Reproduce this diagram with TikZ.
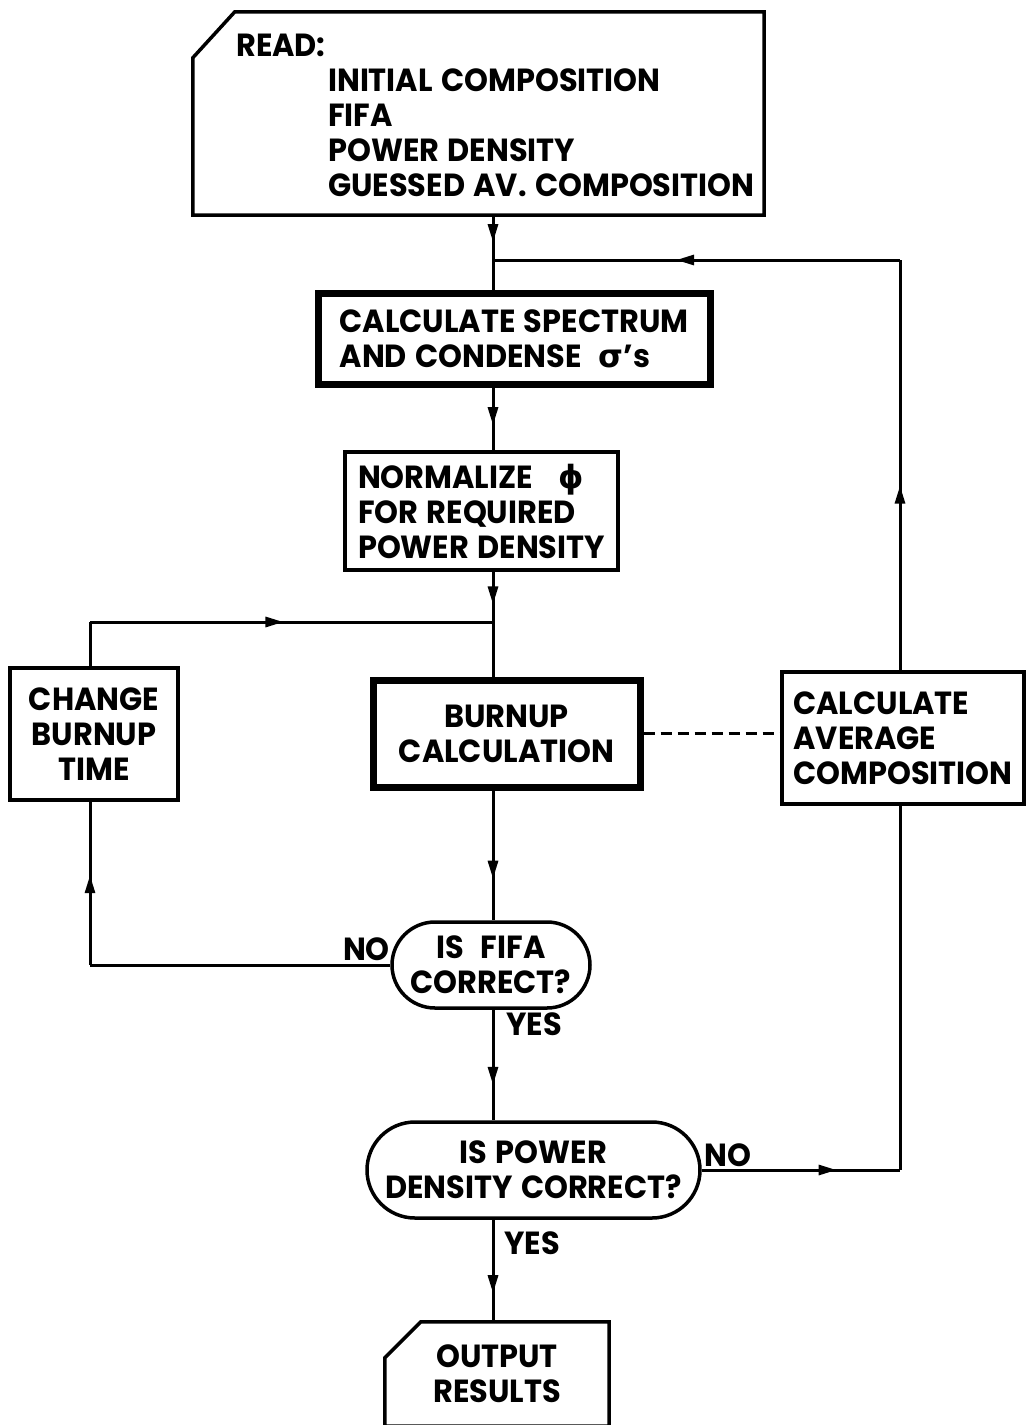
\documentclass[tikz,border=0pt]{standalone}
\usepackage{fontspec}
\setmainfont{Poppins}[WordSpace=1.3,FakeStretch=0.95]
\newfontfamily\grk{DejaVu Sans}
\usetikzlibrary{arrows.meta,shapes.misc,decorations.markings,calc}
\begin{document}
\begin{tikzpicture}[x=1pt,y=-1pt,
  txt/.style={font=\fontsize{32}{35}\selectfont\bfseries},
  box/.style={draw, line width=3.5pt, txt, inner sep=0pt},
  thickbox/.style={box, line width=7pt},
  oval/.style={draw, line width=3.5pt, rounded rectangle, txt, align=center, inner sep=0pt},
  iobox/.style={txt, inner sep=0pt},
  boxline/.style={line width=3.5pt, line join=miter},
  conn/.style={line width=3pt},
  lab/.style={txt, inner sep=0pt},
  arr/.style={postaction={decorate, decoration={markings, mark=at position #1 with {\arrow{Triangle[length=18pt,width=10pt]}}}}}
]
\useasboundingbox (0,0) rectangle (1026,1425);
\fill[white] (0,0) rectangle (1026,1425);

% input box
\node[iobox, minimum width=571pt, minimum height=203pt] (read) at (478.5,113.5) {};
\draw[boxline] ($(read.north west)+(42,0)$) -- (read.north east) -- (read.south east) -- (read.south west) -- ($(read.north west)+(0,46)$) -- cycle;
\node[lab, anchor=west] (readhd) at (236,45) {READ:};
\node[lab, anchor=west, align=left] (readlist) at (328,133) {INITIAL COMPOSITION\\FIFA\\POWER DENSITY\\GUESSED AV. COMPOSITION};

% process boxes
\node[thickbox, minimum width=392pt, minimum height=91pt, align=left] (spec) at (514,338.5) {CALCULATE SPECTRUM\\AND CONDENSE \ {\grk\bfseries σ}’s};
\node[box, minimum width=273pt, minimum height=118pt, align=left] (norm) at (481.5,511) {NORMALIZE \ \ {\grk\bfseries ϕ}\\FOR REQUIRED\\POWER DENSITY};
\node[thickbox, minimum width=267pt, minimum height=107pt, align=center] (burn) at (506.5,733.5) {BURNUP\\CALCULATION};
\node[box, minimum width=168pt, minimum height=132pt, align=center] (change) at (94,734) {CHANGE\\BURNUP\\TIME};
\node[box, minimum width=242pt, minimum height=132pt, align=left] (avg) at (903,738) {CALCULATE\\AVERAGE\\COMPOSITION};

% decisions
\node[oval, minimum width=198pt, minimum height=86pt] (fifa) at (491,965) {IS \ FIFA\\CORRECT?};
\node[oval, minimum width=333pt, minimum height=96pt] (power) at (533.5,1170) {IS POWER\\DENSITY CORRECT?};

% output box
\node[iobox, align=center, minimum width=224pt, minimum height=104pt] (out) at (497,1374) {OUTPUT\\RESULTS};
\draw[boxline] ($(out.north west)+(36,0)$) -- (out.north east) -- (out.south east) -- (out.south west) -- ($(out.north west)+(0,36)$) -- cycle;

% junction coordinates
\coordinate (j1) at (493,260);
\coordinate (j2) at (493,622);
\coordinate (rc) at (900,260);
\coordinate (lc) at (90,622);
\coordinate (lb) at (90,965);
\coordinate (rb) at (900,1170);

% connectors
\draw[conn, arr=0.6] (read.south -| j1) -- (j1);
\draw[conn] (j1) -- (spec.north -| j1);
\draw[conn, arr=0.45] (avg.north -| rc) -- (rc);
\draw[conn, arr=0.55] (rc) -- (j1);
\draw[conn, arr=0.6] (spec.south -| j1) -- (norm.north -| j1);
\draw[conn, arr=0.65] (norm.south -| j1) -- (j2);
\draw[conn] (j2) -- (burn.north -| j2);
\draw[conn] (change.north -| lc) -- (lc);
\draw[conn, arr=0.48] (lc) -- (j2);
\draw[conn, dash pattern=on 11pt off 6pt] (burn.east) -- (burn.east -| avg.west);
\draw[conn, arr=0.68] (burn.south -| j1) -- (fifa.north -| j1);
\draw[conn] (fifa.west) -- (lb);
\draw[conn, arr=0.55] (lb) -- (change.south -| lb);
\draw[conn, arr=0.68] (fifa.south -| j1) -- (power.north -| j1);
\draw[conn, arr=0.68] (power.east) -- (rb);
\draw[conn] (rb) -- (avg.south -| rb);
\draw[conn, arr=0.72] (power.south -| j1) -- (out.north -| j1);

% labels
\node[lab, anchor=south east] (no1) at (390,961) {NO};
\node[lab, anchor=north west] (yes1) at (506,1013) {YES};
\node[lab, anchor=south west] (no2) at (704,1167) {NO};
\node[lab, anchor=north west] (yes2) at (504,1231) {YES};
\end{tikzpicture}
\end{document}
